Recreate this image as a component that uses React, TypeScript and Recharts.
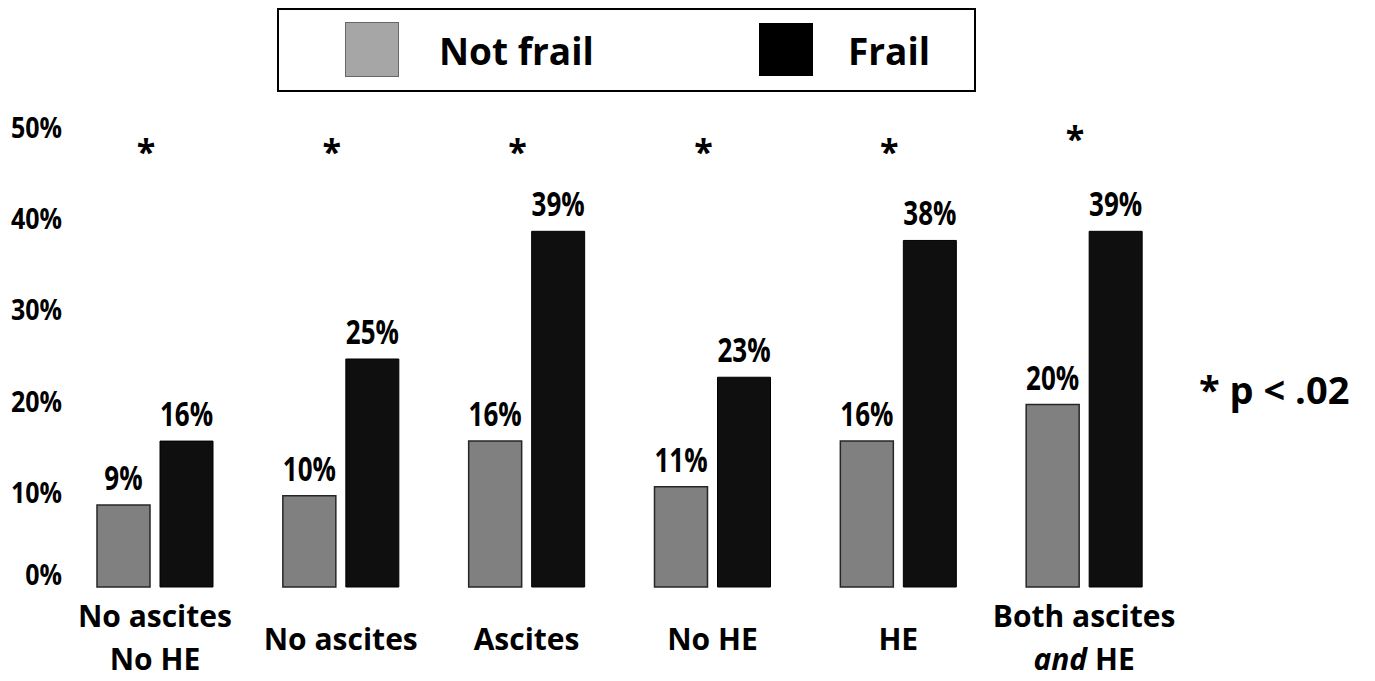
import React from 'react';
import { ComposedChart, Bar, Scatter, XAxis, YAxis, LabelList } from 'recharts';

// values (percent)
const categories = ['No ascites\nNo HE', 'No ascites', 'Ascites', 'No HE', 'HE', 'Both ascites\nand HE'];
const notFrail = [9, 10, 16, 11, 16, 20];
const frail = [16, 25, 39, 23, 38, 39];
// height where the significance star sits
const starLevel = [48.5, 48.5, 48.5, 48.5, 48.5, 49.9];
const seriesNames = ['Not frail', 'Frail'];
const yTicks = [0, 10, 20, 30, 40, 50];
const pNote = '* p < .02';

const data = categories.map((c, i) => ({
  group: c,
  notFrail: notFrail[i],
  frail: frail[i],
  star: starLevel[i],
}));

const FONT = '"Open Sans", sans-serif';

const GroupTick = ({ x, y, payload }: any) => {
  const lines: string[] = String(payload.value).split('\n');
  const single = lines.length === 1;
  return (
    <g transform={`translate(${x},${y})`}>
      {lines.map((line, i) => {
        const dy = single ? 63 : 40 + i * 43;
        if (line.startsWith('and ')) {
          return (
            <text key={i} x={0} y={dy} textAnchor="middle" fontFamily={FONT} fontWeight="bold" fontSize={30} fill="#000">
              <tspan fontStyle="italic">and</tspan>
              <tspan>{line.slice(3)}</tspan>
            </text>
          );
        }
        return (
          <text key={i} x={0} y={dy} textAnchor="middle" fontFamily={FONT} fontWeight="bold" fontSize={30} fill="#000">
            {line}
          </text>
        );
      })}
    </g>
  );
};

const PercentTick = ({ x, y, payload }: any) => (
  <g transform={`translate(${x},${y + (payload.value === 0 ? -2 : 7)}) scale(1,1.12)`}>
    <text x={0} y={0} textAnchor="end" fontFamily={FONT} fontWeight="bold" fontSize={25} fill="#000">
      {`${payload.value}%`}
    </text>
  </g>
);

// value label above a bar; the source glyphs are a bit taller than wide
const BarValue = ({ x, y, width, value }: any) => (
  <g transform={`translate(${Number(x) + Number(width) / 2},${Number(y) - 15}) scale(1,1.28)`}>
    <text x={0} y={0} textAnchor="middle" fontFamily={FONT} fontWeight="bold" fontSize={26} fill="#000">
      {`${value}%`}
    </text>
  </g>
);

const Star = ({ cx, cy }: any) => (
  <text x={cx - 9} y={cy + 19} textAnchor="middle" fontFamily={FONT} fontWeight="bold" fontSize={34} fill="#000">
    *
  </text>
);

function Legend() {
  const txt: React.CSSProperties = {
    position: 'absolute',
    top: 15,
    fontFamily: FONT,
    fontWeight: 'bold',
    fontSize: 37,
    lineHeight: '52px',
    color: '#000',
  };
  return (
    <div
      style={{
        position: 'absolute',
        left: 277,
        top: 8,
        width: 695,
        height: 80,
        border: '2px solid #000',
        background: '#fff',
      }}
    >
      <div style={{ position: 'absolute', left: 66, top: 12, width: 52, height: 53, background: '#a6a6a6', border: '1.5px solid #666' }} />
      <div style={{ ...txt, left: 160 }}>{seriesNames[0]}</div>
      <div style={{ position: 'absolute', left: 480, top: 13, width: 54, height: 53, background: '#000' }} />
      <div style={{ ...txt, left: 569 }}>{seriesNames[1]}</div>
    </div>
  );
}

export default function App() {
  return (
    <div style={{ position: 'absolute', left: 0, top: 0, width: 1375, height: 681, background: '#fff' }}>
      <ComposedChart
        width={1375}
        height={681}
        data={data}
        margin={{ top: 131, right: 198, left: 2, bottom: 34 }}
        barSize={53}
        barGap={10}
      >
        <XAxis
          dataKey="group"
          axisLine={false}
          tickLine={false}
          tickSize={0}
          tickMargin={0}
          height={60}
          interval={0}
          tick={<GroupTick />}
        />
        <YAxis
          domain={[0, 50]}
          ticks={yTicks}
          width={60}
          axisLine={false}
          tickLine={false}
          tickSize={0}
          tickMargin={0}
          tick={<PercentTick />}
        />
        <Bar dataKey="notFrail" name={seriesNames[0]} fill="#808080" stroke="#262626" strokeWidth={1.5} isAnimationActive={false}>
          <LabelList dataKey="notFrail" content={<BarValue />} />
        </Bar>
        <Bar dataKey="frail" name={seriesNames[1]} fill="#0f0f0f" stroke="#000" strokeWidth={1} isAnimationActive={false}>
          <LabelList dataKey="frail" content={<BarValue />} />
        </Bar>
        <Scatter dataKey="star" shape={<Star />} isAnimationActive={false} legendType="none" />
      </ComposedChart>
      <Legend />
      <div
        style={{
          position: 'absolute',
          left: 1199,
          top: 363,
          fontFamily: FONT,
          fontWeight: 'bold',
          fontSize: 38,
          lineHeight: '52px',
          color: '#000',
          whiteSpace: 'nowrap',
        }}
      >
        {pNote}
      </div>
    </div>
  );
}
